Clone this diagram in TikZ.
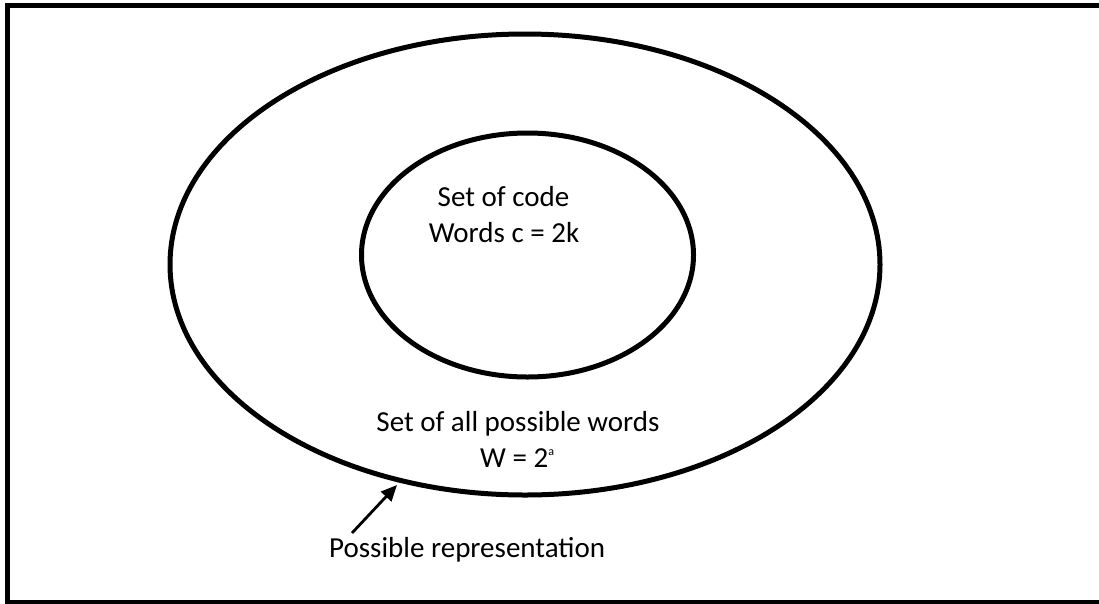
\documentclass[tikz,border=0pt]{standalone}
\usepackage{fontspec}
\setmainfont{Carlito}
\usetikzlibrary{arrows.meta}
\begin{document}
\begin{tikzpicture}[x=1pt,y=-1pt,
  ring/.style={draw=black,line width=5pt},
  lbl/.style={font=\fontsize{29}{36}\selectfont,inner sep=0pt,align=center},
  pointer/.style={draw=black,line width=2.8pt,-{Triangle[length=16pt,width=14pt]}}]
\useasboundingbox (0,0) rectangle (1099,603);
% outer frame: its right side lies past the page edge
\draw[line width=5pt] (1099,5.5) -- (7.5,5.5) -- (7.5,602.5) -- (1099,602.5);
% set of all possible words, and the code words inside it
\draw[ring] (525,264.5) ellipse [x radius=355, y radius=230.5];
\draw[ring] (527.5,255) ellipse [x radius=166, y radius=122];
\node[lbl,anchor=base] (code) at (503.5,206) {Set of code};
\node[lbl,anchor=base] (codew) at (504,242) {Words c = 2k};
\node[lbl,anchor=base] (all) at (518,431) {Set of all possible words};
\node[lbl,anchor=base west] (allw) at (480,467) {W = 2\raisebox{0.8ex}{\fontsize{12}{12}\selectfont a}};
\node[lbl,anchor=base west] (rep) at (329,557) {Possible representation};
\coordinate (tail) at (352,533);
\coordinate (hit) at (397,485);
\draw[pointer] (tail) -- (hit);
\end{tikzpicture}
\end{document}
